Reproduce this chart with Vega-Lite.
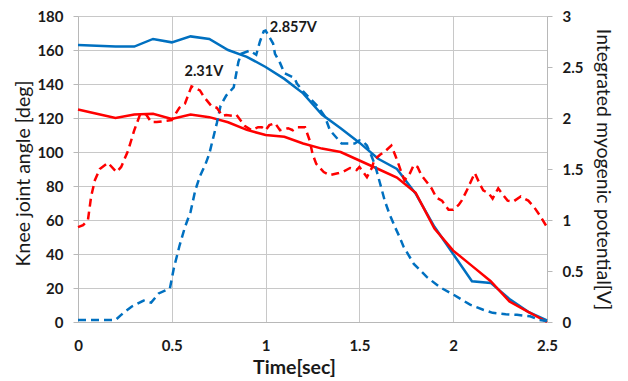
{
  "$schema": "https://vega.github.io/schema/vega-lite/v6.json",
  "width": 469,
  "height": 306,
  "autosize": {"type": "none"},
  "padding": {"left": 78, "top": 16, "right": 81, "bottom": 59},
  "background": "white",
  "config": {
    "view": {"stroke": null},
    "font": "Lato",
    "axis": {
      "labelFont": "Lato",
      "labelFontWeight": "bold",
      "labelFontSize": 15,
      "labelColor": "#1a1a1a",
      "labelFlush": false,
      "labelOverlap": false,
      "titleFont": "Lato",
      "titleColor": "#1a1a1a",
      "titleFontSize": 19.5,
      "titleFontWeight": "normal",
      "gridColor": "#C8C8C8",
      "gridWidth": 1,
      "domainColor": "#B8B8B8",
      "tickColor": "#B8B8B8",
      "tickSize": 5,
      "format": ".1~f"
    }
  },
  "datasets": {
    "angle": [
      {"t": 0.0, "side": "blue", "deg": 163}, {"t": 0.1, "side": "blue", "deg": 162.5}, {"t": 0.2, "side": "blue", "deg": 162}, {"t": 0.3, "side": "blue", "deg": 162}, {"t": 0.4, "side": "blue", "deg": 166.5}, {"t": 0.5, "side": "blue", "deg": 164.5}, {"t": 0.6, "side": "blue", "deg": 168}, {"t": 0.7, "side": "blue", "deg": 166.5}, {"t": 0.8, "side": "blue", "deg": 160}, {"t": 0.9, "side": "blue", "deg": 156}, {"t": 1.0, "side": "blue", "deg": 150}, {"t": 1.1, "side": "blue", "deg": 143}, {"t": 1.2, "side": "blue", "deg": 134.5}, {"t": 1.3, "side": "blue", "deg": 122}, {"t": 1.4, "side": "blue", "deg": 114}, {"t": 1.5, "side": "blue", "deg": 105.5}, {"t": 1.6, "side": "blue", "deg": 96}, {"t": 1.7, "side": "blue", "deg": 90}, {"t": 1.8, "side": "blue", "deg": 75.5}, {"t": 1.9, "side": "blue", "deg": 56}, {"t": 2.0, "side": "blue", "deg": 40}, {"t": 2.1, "side": "blue", "deg": 24}, {"t": 2.2, "side": "blue", "deg": 23}, {"t": 2.3, "side": "blue", "deg": 13.5}, {"t": 2.4, "side": "blue", "deg": 6}, {"t": 2.5, "side": "blue", "deg": 1},
      {"t": 0.0, "side": "red", "deg": 125}, {"t": 0.1, "side": "red", "deg": 122.5}, {"t": 0.2, "side": "red", "deg": 120}, {"t": 0.3, "side": "red", "deg": 122}, {"t": 0.4, "side": "red", "deg": 122.5}, {"t": 0.5, "side": "red", "deg": 119.5}, {"t": 0.6, "side": "red", "deg": 122}, {"t": 0.7, "side": "red", "deg": 120.5}, {"t": 0.8, "side": "red", "deg": 117.5}, {"t": 0.9, "side": "red", "deg": 113}, {"t": 1.0, "side": "red", "deg": 110}, {"t": 1.1, "side": "red", "deg": 109}, {"t": 1.2, "side": "red", "deg": 105}, {"t": 1.3, "side": "red", "deg": 102}, {"t": 1.4, "side": "red", "deg": 100}, {"t": 1.5, "side": "red", "deg": 95}, {"t": 1.6, "side": "red", "deg": 90}, {"t": 1.7, "side": "red", "deg": 85}, {"t": 1.8, "side": "red", "deg": 76}, {"t": 1.9, "side": "red", "deg": 55}, {"t": 2.0, "side": "red", "deg": 42}, {"t": 2.1, "side": "red", "deg": 33}, {"t": 2.2, "side": "red", "deg": 24}, {"t": 2.3, "side": "red", "deg": 12}, {"t": 2.4, "side": "red", "deg": 6}, {"t": 2.5, "side": "red", "deg": 0}
    ],
    "emg": [
      {"t": 0.0, "side": "blue", "v": 0.02}, {"t": 0.1, "side": "blue", "v": 0.02}, {"t": 0.2, "side": "blue", "v": 0.02}, {"t": 0.23, "side": "blue", "v": 0.07}, {"t": 0.285, "side": "blue", "v": 0.15}, {"t": 0.35, "side": "blue", "v": 0.21}, {"t": 0.39, "side": "blue", "v": 0.19}, {"t": 0.43, "side": "blue", "v": 0.28}, {"t": 0.49, "side": "blue", "v": 0.33}, {"t": 0.51, "side": "blue", "v": 0.52}, {"t": 0.54, "side": "blue", "v": 0.74}, {"t": 0.57, "side": "blue", "v": 0.93}, {"t": 0.6, "side": "blue", "v": 1.08}, {"t": 0.625, "side": "blue", "v": 1.29}, {"t": 0.65, "side": "blue", "v": 1.43}, {"t": 0.68, "side": "blue", "v": 1.55}, {"t": 0.7, "side": "blue", "v": 1.65}, {"t": 0.74, "side": "blue", "v": 1.95}, {"t": 0.76, "side": "blue", "v": 2.12}, {"t": 0.79, "side": "blue", "v": 2.22}, {"t": 0.83, "side": "blue", "v": 2.3}, {"t": 0.855, "side": "blue", "v": 2.55}, {"t": 0.87, "side": "blue", "v": 2.63}, {"t": 0.915, "side": "blue", "v": 2.66}, {"t": 0.95, "side": "blue", "v": 2.62}, {"t": 0.97, "side": "blue", "v": 2.75}, {"t": 0.99, "side": "blue", "v": 2.85}, {"t": 1.0, "side": "blue", "v": 2.857}, {"t": 1.04, "side": "blue", "v": 2.73}, {"t": 1.05, "side": "blue", "v": 2.63}, {"t": 1.077, "side": "blue", "v": 2.54}, {"t": 1.1, "side": "blue", "v": 2.44}, {"t": 1.155, "side": "blue", "v": 2.39}, {"t": 1.166, "side": "blue", "v": 2.34}, {"t": 1.2, "side": "blue", "v": 2.26}, {"t": 1.28, "side": "blue", "v": 2.11}, {"t": 1.317, "side": "blue", "v": 2.01}, {"t": 1.343, "side": "blue", "v": 1.88}, {"t": 1.405, "side": "blue", "v": 1.75}, {"t": 1.475, "side": "blue", "v": 1.75}, {"t": 1.5, "side": "blue", "v": 1.78}, {"t": 1.52, "side": "blue", "v": 1.77}, {"t": 1.54, "side": "blue", "v": 1.73}, {"t": 1.566, "side": "blue", "v": 1.62}, {"t": 1.583, "side": "blue", "v": 1.54}, {"t": 1.61, "side": "blue", "v": 1.36}, {"t": 1.635, "side": "blue", "v": 1.19}, {"t": 1.66, "side": "blue", "v": 1.06}, {"t": 1.69, "side": "blue", "v": 0.93}, {"t": 1.715, "side": "blue", "v": 0.83}, {"t": 1.735, "side": "blue", "v": 0.74}, {"t": 1.79, "side": "blue", "v": 0.57}, {"t": 1.86, "side": "blue", "v": 0.44}, {"t": 1.93, "side": "blue", "v": 0.34}, {"t": 2.0, "side": "blue", "v": 0.27}, {"t": 2.09, "side": "blue", "v": 0.17}, {"t": 2.16, "side": "blue", "v": 0.12}, {"t": 2.21, "side": "blue", "v": 0.09}, {"t": 2.28, "side": "blue", "v": 0.076}, {"t": 2.34, "side": "blue", "v": 0.07}, {"t": 2.41, "side": "blue", "v": 0.056}, {"t": 2.46, "side": "blue", "v": 0.02}, {"t": 2.5, "side": "blue", "v": 0.01},
      {"t": 0.0, "side": "red", "v": 0.93}, {"t": 0.027, "side": "red", "v": 0.95}, {"t": 0.053, "side": "red", "v": 1.0}, {"t": 0.07, "side": "red", "v": 1.23}, {"t": 0.09, "side": "red", "v": 1.39}, {"t": 0.116, "side": "red", "v": 1.5}, {"t": 0.16, "side": "red", "v": 1.56}, {"t": 0.205, "side": "red", "v": 1.47}, {"t": 0.23, "side": "red", "v": 1.52}, {"t": 0.267, "side": "red", "v": 1.68}, {"t": 0.3, "side": "red", "v": 1.88}, {"t": 0.33, "side": "red", "v": 2.03}, {"t": 0.345, "side": "red", "v": 2.05}, {"t": 0.365, "side": "red", "v": 2.03}, {"t": 0.39, "side": "red", "v": 1.96}, {"t": 0.42, "side": "red", "v": 1.96}, {"t": 0.5, "side": "red", "v": 1.98}, {"t": 0.54, "side": "red", "v": 2.1}, {"t": 0.57, "side": "red", "v": 2.14}, {"t": 0.605, "side": "red", "v": 2.31}, {"t": 0.65, "side": "red", "v": 2.27}, {"t": 0.67, "side": "red", "v": 2.21}, {"t": 0.71, "side": "red", "v": 2.12}, {"t": 0.74, "side": "red", "v": 2.1}, {"t": 0.77, "side": "red", "v": 2.02}, {"t": 0.79, "side": "red", "v": 2.03}, {"t": 0.83, "side": "red", "v": 2.02}, {"t": 0.845, "side": "red", "v": 2.03}, {"t": 0.89, "side": "red", "v": 1.92}, {"t": 0.925, "side": "red", "v": 1.88}, {"t": 0.96, "side": "red", "v": 1.91}, {"t": 0.98, "side": "red", "v": 1.91}, {"t": 1.0, "side": "red", "v": 1.88}, {"t": 1.02, "side": "red", "v": 1.93}, {"t": 1.05, "side": "red", "v": 1.95}, {"t": 1.077, "side": "red", "v": 1.88}, {"t": 1.12, "side": "red", "v": 1.9}, {"t": 1.145, "side": "red", "v": 1.88}, {"t": 1.17, "side": "red", "v": 1.91}, {"t": 1.21, "side": "red", "v": 1.91}, {"t": 1.235, "side": "red", "v": 1.78}, {"t": 1.25, "side": "red", "v": 1.65}, {"t": 1.27, "side": "red", "v": 1.55}, {"t": 1.31, "side": "red", "v": 1.47}, {"t": 1.343, "side": "red", "v": 1.44}, {"t": 1.39, "side": "red", "v": 1.46}, {"t": 1.41, "side": "red", "v": 1.47}, {"t": 1.45, "side": "red", "v": 1.51}, {"t": 1.485, "side": "red", "v": 1.49}, {"t": 1.5, "side": "red", "v": 1.52}, {"t": 1.54, "side": "red", "v": 1.42}, {"t": 1.566, "side": "red", "v": 1.51}, {"t": 1.58, "side": "red", "v": 1.59}, {"t": 1.61, "side": "red", "v": 1.64}, {"t": 1.635, "side": "red", "v": 1.67}, {"t": 1.67, "side": "red", "v": 1.73}, {"t": 1.69, "side": "red", "v": 1.64}, {"t": 1.71, "side": "red", "v": 1.54}, {"t": 1.725, "side": "red", "v": 1.46}, {"t": 1.74, "side": "red", "v": 1.39}, {"t": 1.77, "side": "red", "v": 1.46}, {"t": 1.79, "side": "red", "v": 1.54}, {"t": 1.81, "side": "red", "v": 1.52}, {"t": 1.83, "side": "red", "v": 1.44}, {"t": 1.86, "side": "red", "v": 1.37}, {"t": 1.885, "side": "red", "v": 1.31}, {"t": 1.91, "side": "red", "v": 1.22}, {"t": 1.94, "side": "red", "v": 1.19}, {"t": 1.975, "side": "red", "v": 1.1}, {"t": 2.0, "side": "red", "v": 1.1}, {"t": 2.03, "side": "red", "v": 1.15}, {"t": 2.045, "side": "red", "v": 1.19}, {"t": 2.07, "side": "red", "v": 1.28}, {"t": 2.09, "side": "red", "v": 1.36}, {"t": 2.115, "side": "red", "v": 1.46}, {"t": 2.14, "side": "red", "v": 1.36}, {"t": 2.16, "side": "red", "v": 1.29}, {"t": 2.19, "side": "red", "v": 1.26}, {"t": 2.21, "side": "red", "v": 1.21}, {"t": 2.24, "side": "red", "v": 1.31}, {"t": 2.26, "side": "red", "v": 1.26}, {"t": 2.29, "side": "red", "v": 1.19}, {"t": 2.32, "side": "red", "v": 1.18}, {"t": 2.36, "side": "red", "v": 1.23}, {"t": 2.4, "side": "red", "v": 1.19}, {"t": 2.43, "side": "red", "v": 1.13}, {"t": 2.46, "side": "red", "v": 1.05}, {"t": 2.5, "side": "red", "v": 0.93}
    ],
    "notes": [
      {"t": 0.671, "v": 2.45, "label": "2.31V"},
      {"t": 1.148, "v": 2.88, "label": "2.857V"}
    ]
  },
  "encoding": {
    "x": {
      "field": "t", "type": "quantitative",
      "scale": {"domain": [0, 2.5], "nice": false, "zero": false},
      "axis": {
        "values": [0, 0.5, 1, 1.5, 2, 2.5],
        "title": "Time[sec]",
        "titleFontWeight": "bold",
        "titleFontSize": 19.5,
        "titlePadding": 5,
        "titleX": 216,
        "ticks": false,
        "labelPadding": 16,
        "grid": true,
        "gridColor": "#C8C8C8"
      }
    }
  },
  "layer": [
    {
      "data": {"name": "angle"},
      "mark": {"type": "line", "strokeWidth": 2.5},
      "encoding": {
        "y": {
          "field": "deg", "type": "quantitative",
          "scale": {"domain": [0, 180], "nice": false},
          "axis": {
            "values": [0, 20, 40, 60, 80, 100, 120, 140, 160, 180],
            "format": "d",
            "title": "Knee joint angle [deg]",
            "titlePadding": 3,
            "titleY": 157,
            "labelPadding": 10,
            "grid": true,
            "orient": "left"
          }
        },
        "color": {"field": "side", "type": "nominal", "scale": {"domain": ["blue", "red"], "range": ["#0070C0", "#FF0000"]}, "legend": null}
      }
    },
    {
      "layer": [
        {
          "data": {"name": "emg"},
          "mark": {"type": "line", "strokeWidth": 2.5, "strokeDash": [8, 5]},
          "encoding": {
            "y": {
              "field": "v", "type": "quantitative",
              "scale": {"domain": [0, 3], "nice": false},
              "axis": {
                "values": [0, 0.5, 1, 1.5, 2, 2.5, 3],
                "title": "Integrated myogenic potential[V]",
                "titlePadding": 10,
                "labelPadding": 10,
                "grid": false,
                "orient": "right"
              }
            },
            "color": {"field": "side", "type": "nominal", "scale": {"domain": ["blue", "red"], "range": ["#0070C0", "#FF0000"]}, "legend": null}
          }
        },
        {
          "data": {"name": "notes"},
          "mark": {"type": "text", "font": "Lato", "fontWeight": "bold", "fontSize": 14.5, "color": "#1a1a1a", "baseline": "middle", "align": "center"},
          "encoding": {
            "y": {"field": "v", "type": "quantitative"},
            "text": {"field": "label"}
          }
        }
      ]
    }
  ],
  "resolve": {"scale": {"y": "independent", "color": "shared"}}
}
